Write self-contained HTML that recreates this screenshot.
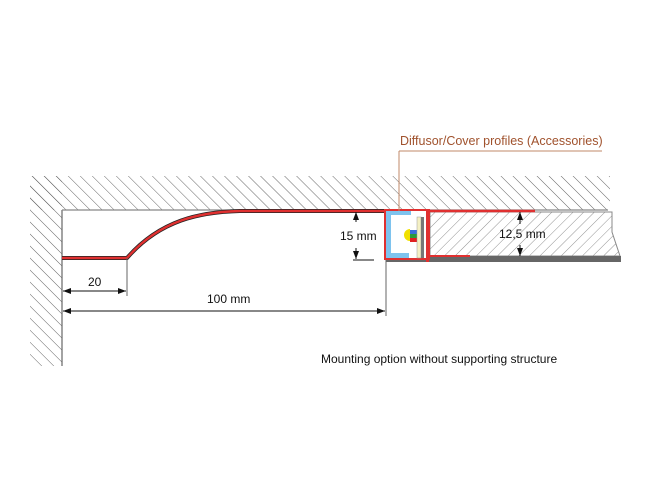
<!DOCTYPE html>
<html><head><meta charset="utf-8"><style>
html,body{margin:0;padding:0;background:#fff;}
svg{display:block;}
text{font-family:"Liberation Sans",Arial,sans-serif;font-size:12px;fill:#111;}
</style></head><body>
<svg width="650" height="500" viewBox="0 0 650 500" xmlns="http://www.w3.org/2000/svg">
<defs>
<pattern id="h1" patternUnits="userSpaceOnUse" width="8.5" height="8.5" patternTransform="rotate(-45)">
<line x1="0" y1="0" x2="0" y2="8.5" stroke="#555" stroke-width="0.9"/>
</pattern>
<pattern id="h2" patternUnits="userSpaceOnUse" width="7.5" height="7.5" patternTransform="rotate(45)">
<line x1="0" y1="0" x2="0" y2="7.5" stroke="#777" stroke-width="0.8"/>
</pattern>
<marker id="a" markerWidth="8" markerHeight="6" refX="8" refY="3" orient="auto" markerUnits="userSpaceOnUse">
<path d="M0,0 L8,3 L0,6 z" fill="#111"/></marker>
</defs>
<rect x="30" y="176" width="580" height="34" fill="url(#h1)"/>
<rect x="30" y="176" width="32" height="190" fill="url(#h1)"/>
<rect x="62" y="210" width="548" height="1" fill="#fff"/>
<line x1="62" y1="210" x2="62" y2="366" stroke="#666" stroke-width="1.2"/>
<line x1="62" y1="210" x2="608" y2="210" stroke="#888" stroke-width="1.2"/>
<path d="M430,212 L612,212 L612,232 L620,256 L430,256 z" fill="url(#h2)" stroke="#888" stroke-width="1"/>
<rect x="386" y="256" width="235" height="6" fill="#666"/>
<path d="M62,258 L127,258 C160,220 200,212 240,211 L386,211" fill="none" stroke="#222" stroke-width="4"/>
<path d="M62,258 L127,258 C160,220 200,212 240,211 L386,211" fill="none" stroke="#e03030" stroke-width="2.4"/>
<line x1="428" y1="211" x2="535" y2="211" stroke="#e03030" stroke-width="2.5"/>
<line x1="430" y1="256" x2="470" y2="256" stroke="#e03030" stroke-width="2"/>
<rect x="385" y="210" width="44" height="49" fill="#fff" stroke="#e03030" stroke-width="2"/>
<path d="M386,211 L411,211 L411,215 L391,215 L391,253 L409,253 L409,258 L386,258 z" fill="#7ec3ee"/>
<path d="M410,229 A6,6 0 0 0 410,241 z" fill="#f0e000"/>
<rect x="410" y="230" width="7" height="4" fill="#3a6fd8"/>
<rect x="410" y="234" width="7" height="4" fill="#2a9a3a"/>
<rect x="410" y="238" width="7" height="4" fill="#e02020"/>
<rect x="417" y="217" width="4" height="41" fill="#f4f0c4" stroke="#999" stroke-width="0.5"/>
<rect x="421" y="217" width="3" height="41" fill="#777"/>
<rect x="426" y="210" width="3" height="52" fill="#e03030"/>
<text x="400" y="145" style="fill:#a0522d;font-size:12.5px">Diffusor/Cover profiles (Accessories)</text>
<line x1="399" y1="151" x2="602" y2="151" stroke="#c08a6a" stroke-width="1"/>
<line x1="399" y1="151" x2="399" y2="211" stroke="#c08a6a" stroke-width="1"/>
<line x1="356" y1="222" x2="356" y2="212" stroke="#111" marker-end="url(#a)"/>
<line x1="356" y1="248" x2="356" y2="259" stroke="#111" marker-end="url(#a)"/>
<line x1="353" y1="260" x2="374" y2="260" stroke="#111"/>
<text x="340" y="240">15 mm</text>
<line x1="520" y1="224" x2="520" y2="212" stroke="#111" marker-end="url(#a)"/>
<line x1="520" y1="245" x2="520" y2="256" stroke="#111" marker-end="url(#a)"/>
<text x="499" y="238">12,5 mm</text>
<line x1="386" y1="260" x2="386" y2="316" stroke="#666" stroke-width="1"/>
<line x1="127" y1="258" x2="127" y2="296" stroke="#666" stroke-width="1"/>
<line x1="95" y1="291" x2="63" y2="291" stroke="#111" marker-end="url(#a)"/>
<line x1="95" y1="291" x2="126" y2="291" stroke="#111" marker-end="url(#a)"/>
<text x="88" y="286">20</text>
<line x1="220" y1="311" x2="63" y2="311" stroke="#111" marker-end="url(#a)"/>
<line x1="220" y1="311" x2="385" y2="311" stroke="#111" marker-end="url(#a)"/>
<text x="207" y="303">100 mm</text>
<text x="321" y="363">Mounting option without supporting structure</text>
</svg>
</body></html>
